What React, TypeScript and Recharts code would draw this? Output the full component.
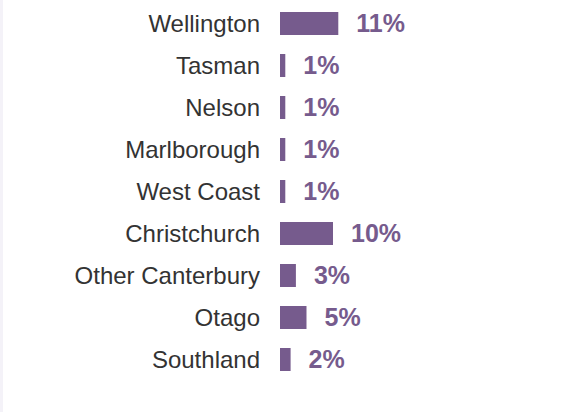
import React from "react";
import { BarChart, Bar, XAxis, YAxis, LabelList } from "recharts";

const regions = [
  "Wellington",
  "Tasman",
  "Nelson",
  "Marlborough",
  "West Coast",
  "Christchurch",
  "Other Canterbury",
  "Otago",
  "Southland",
];
const shares = [11, 1, 1, 1, 1, 10, 3, 5, 2];

const purple = "#765b8d";
const font = "'Liberation Sans', Arial, sans-serif";

const data = regions.map((region, i) => ({ region, share: shares[i] }));

const App: React.FC = () => (
  <div style={{ width: 564, height: 412, background: "#fff", position: "relative" }}>
    <style>{"body{margin:0}"}</style>
    <div style={{ position: "absolute", left: 0, top: 0, width: 3, height: 412, background: "#f4f2f8" }} />
    <BarChart
      width={564}
      height={412}
      data={data}
      layout="vertical"
      margin={{ top: 2, right: 72, left: 0, bottom: 32 }}
    >
      <XAxis type="number" domain={[0, 40]} hide />
      <YAxis
        type="category"
        dataKey="region"
        width={280}
        axisLine={false}
        tickLine={false}
        tickSize={0}
        tickMargin={20}
        interval={0}
        tick={{ fontSize: 24, fill: "#333333", fontFamily: font }}
      />
      <Bar dataKey="share" fill={purple} barSize={23} isAnimationActive={false}>
        <LabelList
          dataKey="share"
          position="right"
          offset={18}
          formatter={(v: number) => `${v}%`}
          style={{ fontSize: 25, fontWeight: "bold", fill: purple, fontFamily: font }}
        />
      </Bar>
    </BarChart>
  </div>
);

export default App;
